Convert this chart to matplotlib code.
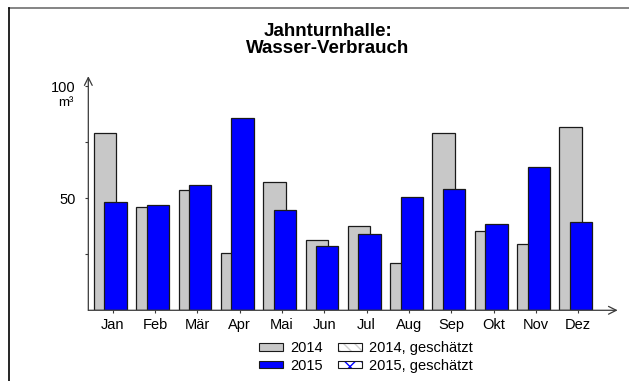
import matplotlib.pyplot as plt
import numpy as np
from matplotlib.patches import Patch
from matplotlib.lines import Line2D

plt.rcParams['font.family'] = ['Liberation Sans', 'DejaVu Sans']

monate = ['Jan', 'Feb', 'Mär', 'Apr', 'Mai', 'Jun', 'Jul', 'Aug', 'Sep', 'Okt', 'Nov', 'Dez']
# Wasserverbrauch in m³
verbrauch_2014 = [79.3, 46.3, 53.6, 25.4, 57.3, 31.2, 37.8, 21.0, 79.3, 35.3, 29.6, 81.7]
verbrauch_2015 = [48.5, 47.1, 56.1, 85.7, 44.6, 28.6, 34.2, 50.4, 54.3, 38.5, 64.1, 39.6]
y_ticks = [25, 50, 75, 100]
y_ticklabels = ['', '50', '', '100']

grau = '#c8c8c8'
blau = '#0000ff'
rand = '#1a1a1a'
achse = '#3a3a3a'

fig = plt.figure(figsize=(6.29, 3.81), dpi=100)
ax = fig.add_axes([0.1404, 0.1856, 0.8416, 0.6144])

x = np.arange(len(monate))
breite = 0.53
ax.bar(x - 0.18, verbrauch_2014, breite, color=grau, edgecolor=rand, linewidth=0.9, zorder=2)
ax.bar(x + 0.066, verbrauch_2015, breite, color=blau, edgecolor=rand, linewidth=0.9, zorder=3)

ax.set_xlim(-0.576, 11.93)
ax.set_ylim(0, 104.5)

# Achsen als Pfeile
for s in ax.spines.values():
    s.set_visible(False)
pfeil = dict(arrowstyle='->', color=achse, lw=0.9, shrinkA=0, shrinkB=0, mutation_scale=14)
ax.annotate('', xy=(11.93, 0), xytext=(-0.576, 0), arrowprops=pfeil, annotation_clip=False)
ax.annotate('', xy=(-0.576, 104.5), xytext=(-0.576, 0), arrowprops=pfeil, annotation_clip=False)

ax.set_xticks(x)
ax.set_xticklabels(monate, fontsize=10.5)
ax.set_yticks(y_ticks)
ax.set_yticklabels(y_ticklabels, fontsize=10.5)
ax.tick_params(axis='x', length=2.5, width=0.8, color=achse, pad=3)
ax.tick_params(axis='y', length=2.5, width=0.8, color=achse, pad=6.5)
ax.annotate('m³', xy=(-0.576, 100), xytext=(-16, -12), textcoords='offset points',
            ha='center', va='center', fontsize=9.5)

fig.text(0.5215, 1 - 40 / 381, 'Jahnturnhalle:\nWasser-Verbrauch', ha='center', va='center',
         fontsize=13.5, fontweight='bold', linespacing=1.05)

# Legende
h2014 = Patch(facecolor=grau, edgecolor=rand, linewidth=0.8)
h2015 = Patch(facecolor=blau, edgecolor=rand, linewidth=0.8)
h2014g = (Patch(facecolor='white', edgecolor='#d0d0d0', hatch='\\\\\\', linewidth=0),
          Patch(facecolor='none', edgecolor=rand, linewidth=0.8))
h2015g = (Patch(facecolor='white', edgecolor=blau, hatch='xx', linewidth=0),
          Patch(facecolor='none', edgecolor=rand, linewidth=0.8))
ax.legend([h2014, h2015, h2014g, h2015g],
          ['2014', '2015', '2014, geschätzt', '2015, geschätzt'],
          ncol=2, loc='center', bbox_to_anchor=(366 / 629, 1 - 357 / 381),
          bbox_transform=fig.transFigure, frameon=False, fontsize=10.5,
          handlelength=1.65, handleheight=0.42, handletextpad=0.5,
          columnspacing=1.0, labelspacing=0.25, borderpad=0)

# Rahmen
fig.add_artist(Line2D([9 / 629, 1], [1 - 7.5 / 381] * 2, color='#707070', lw=1.2,
                      transform=fig.transFigure))
fig.add_artist(Line2D([9 / 629] * 2, [0, 1 - 7.5 / 381], color='#000000', lw=1.2,
                      transform=fig.transFigure))

fig.savefig('out.png', dpi=100)
